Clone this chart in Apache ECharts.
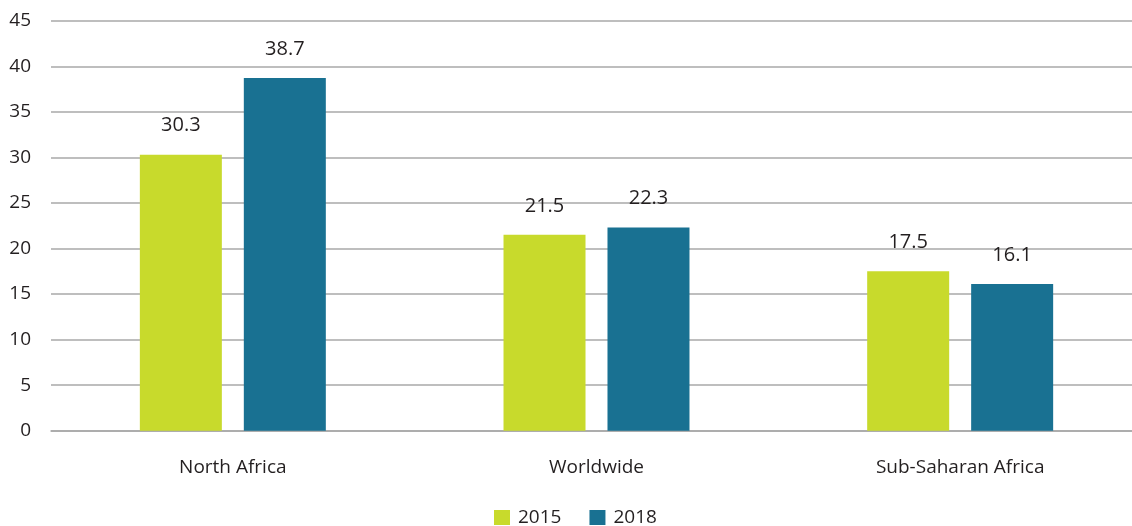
<!DOCTYPE html>
<html>
<head>
<meta charset="utf-8">
<script src="https://cdn.jsdelivr.net/npm/echarts@6/dist/echarts.min.js"></script>
<style>
  html, body { margin: 0; padding: 0; background: #ffffff; overflow: hidden; width: 1132px; height: 526px; }
  /* the plot runs a little past the right edge of the page */
  #chart { width: 1142px; height: 526px; }
</style>
</head>
<body>
<div id="chart"></div>
<script>
// Regions on the category axis
const categories = ['North Africa', 'Worldwide', 'Sub-Saharan Africa'];
// Values per year
const values2015 = [30.3, 21.5, 17.5];
const values2018 = [38.7, 22.3, 16.1];
const seriesNames = ['2015', '2018'];
// Value axis range
const yMin = 0, yMax = 45, yStep = 5;

const FONT = '"Open Sans", "Noto Sans", sans-serif';
const TEXT = '#231f20';
const GRID_LINE = '#a8a8a8';

const chart = echarts.init(document.getElementById('chart'), null, { renderer: 'canvas' });

const labelStyle = {
  show: true,
  position: 'top',
  distance: 19,
  color: TEXT,
  fontFamily: FONT,
  fontSize: 20
};

chart.setOption({
  animation: false,
  backgroundColor: '#ffffff',
  grid: { left: 51, top: 20.7, right: 0, height: 410, containLabel: false },
  legend: {
    top: 508,
    left: 494,
    padding: 0,
    itemWidth: 16,
    itemHeight: 15,
    itemGap: 28,
    icon: 'rect',
    textStyle: { color: TEXT, fontFamily: FONT, fontSize: 19, padding: [0, 0, 0, 3] },
    data: seriesNames
  },
  xAxis: {
    type: 'category',
    data: categories,
    axisLine: { show: true, lineStyle: { color: GRID_LINE, width: 1.5 } },
    axisTick: { show: false },
    axisLabel: { color: TEXT, fontFamily: FONT, fontSize: 19, margin: 27 }
  },
  yAxis: {
    type: 'value',
    min: yMin,
    max: yMax,
    interval: yStep,
    axisLine: { show: false },
    axisTick: { show: false },
    axisLabel: { color: TEXT, fontFamily: FONT, fontSize: 19, margin: 20 },
    splitLine: { lineStyle: { color: GRID_LINE, width: 1.5 } }
  },
  series: [
    {
      name: seriesNames[0],
      type: 'bar',
      data: values2015,
      barWidth: 82,
      barGap: '26.8%',
      itemStyle: { color: '#c8da2c' },
      label: labelStyle
    },
    {
      name: seriesNames[1],
      type: 'bar',
      data: values2018,
      barWidth: 82,
      barGap: '26.8%',
      itemStyle: { color: '#197192' },
      label: labelStyle
    }
  ]
});
</script>
</body>
</html>
